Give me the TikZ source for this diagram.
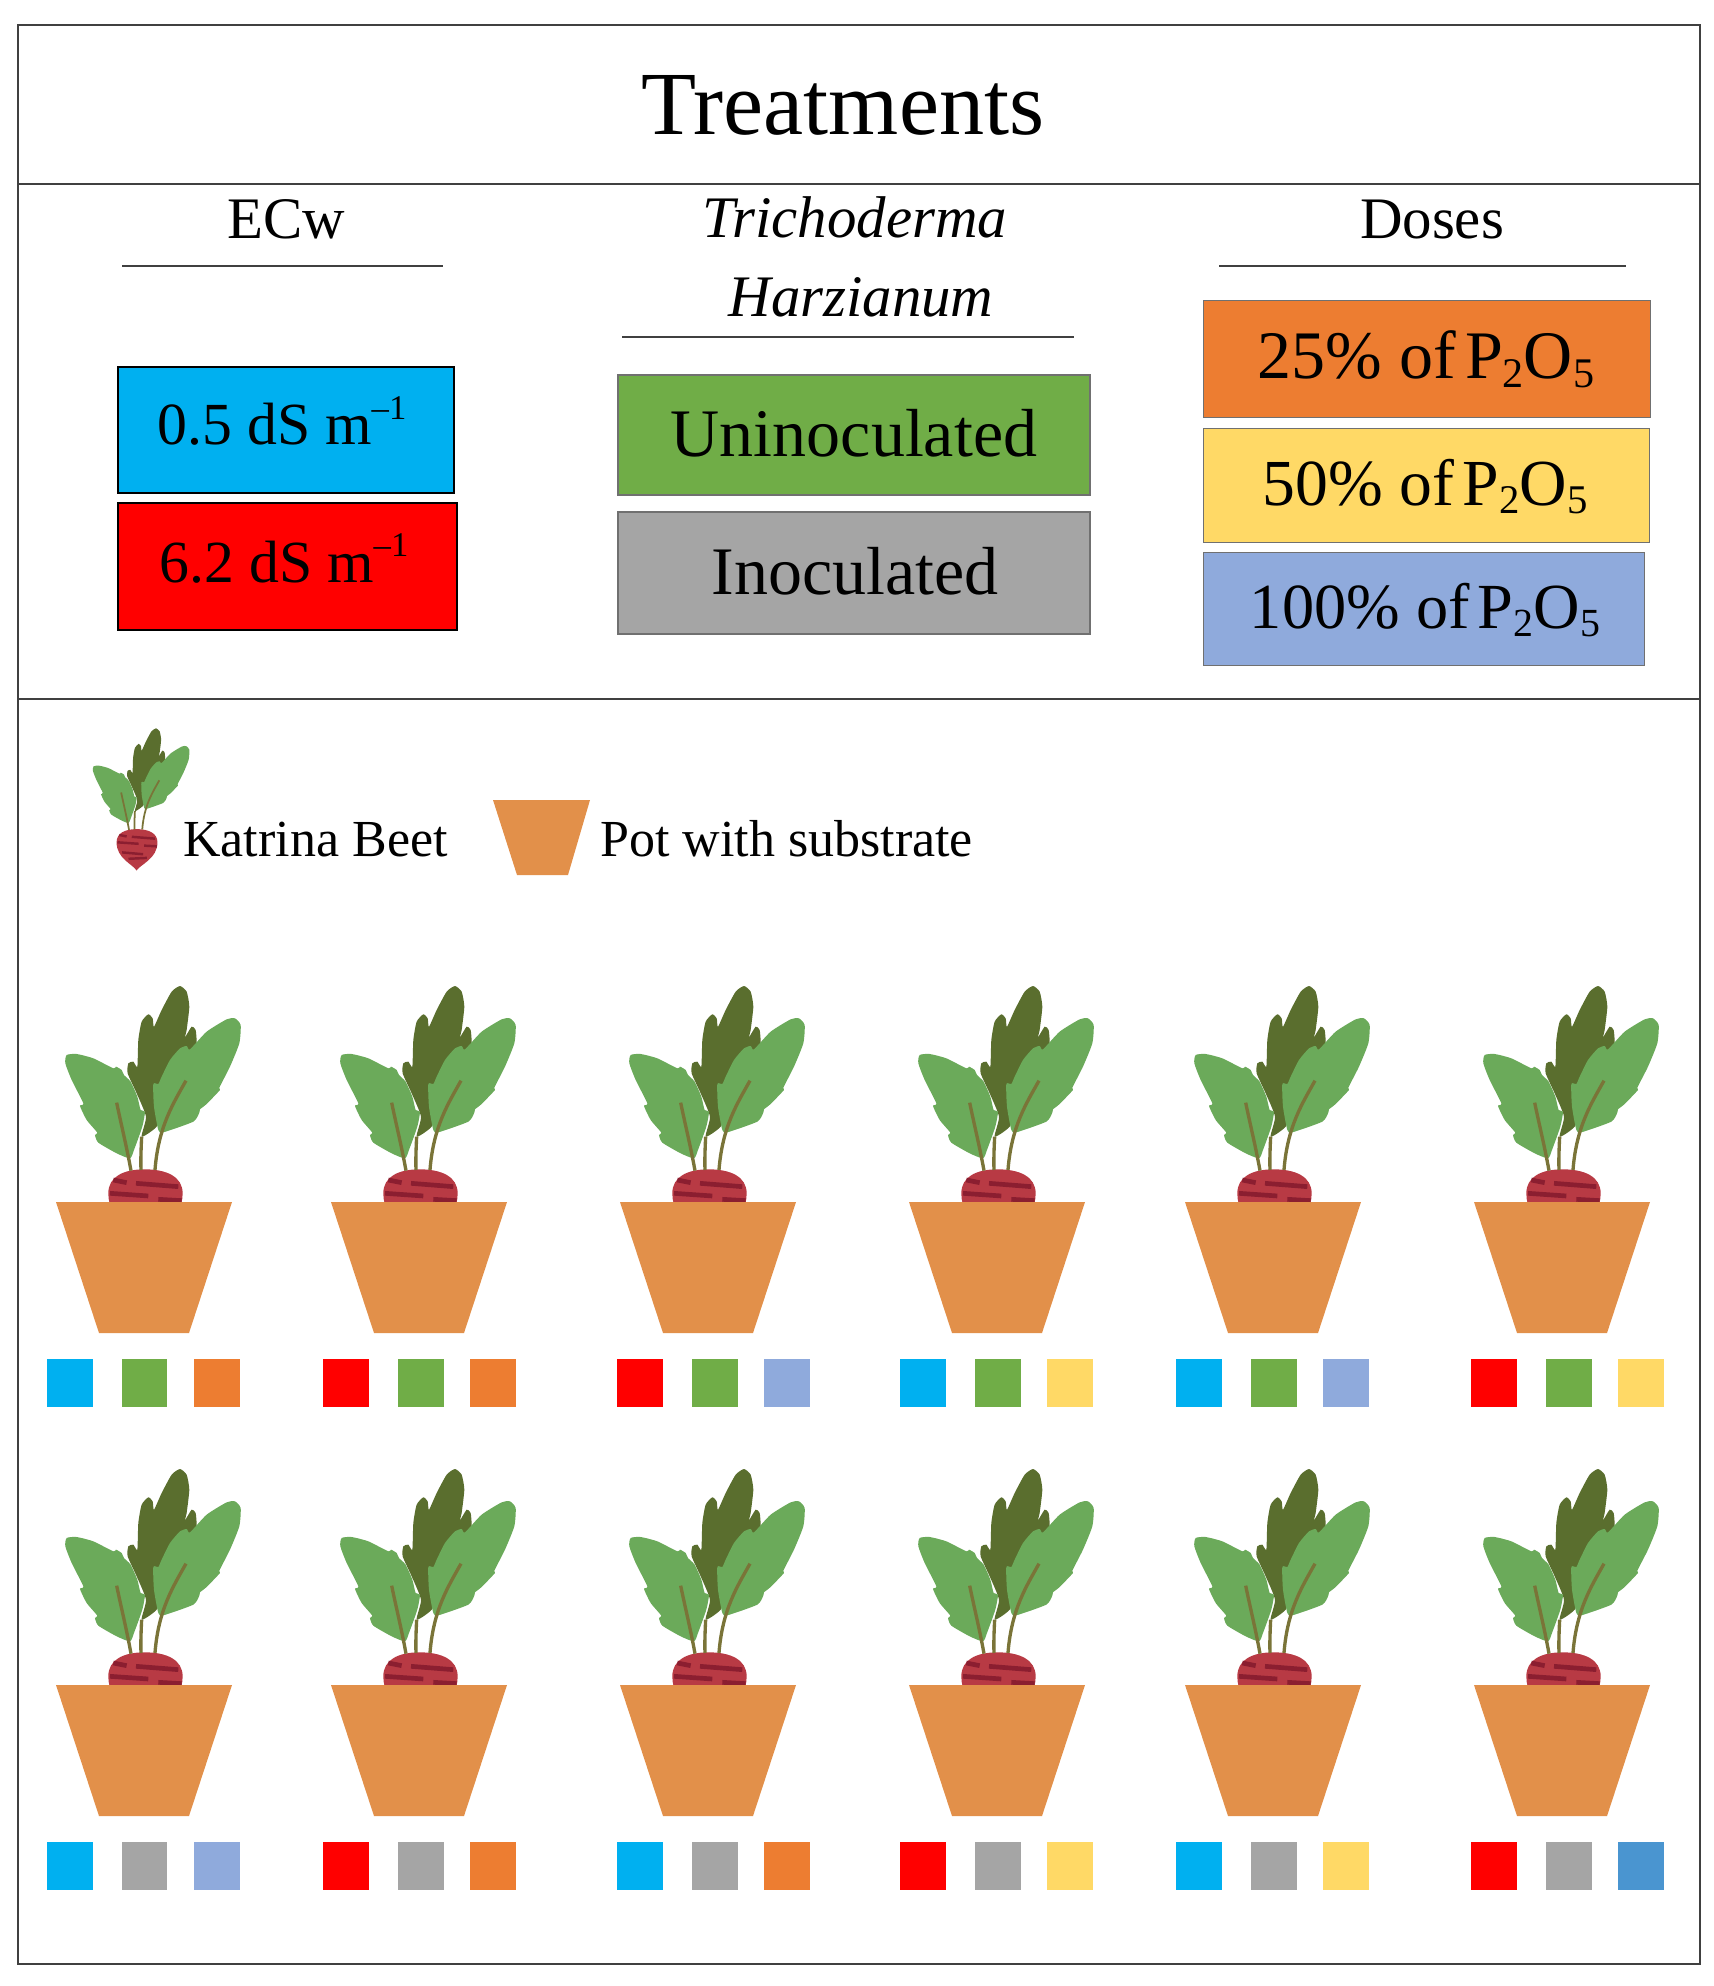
\documentclass[tikz,border=0pt]{standalone}
\usepackage{graphicx}
\usepackage{fontspec}
\setmainfont{Liberation Serif}
\definecolor{ecblue}{HTML}{00B0F0}
\definecolor{ecred}{HTML}{FF0000}
\definecolor{inogreen}{HTML}{70AD47}
\definecolor{inogray}{HTML}{A5A5A5}
\definecolor{doseorange}{HTML}{ED7D31}
\definecolor{doseyellow}{HTML}{FFD966}
\definecolor{doseblue}{HTML}{8FAADC}
\definecolor{dosedeep}{HTML}{4A95D0}
\definecolor{potfill}{HTML}{E2904A}
\definecolor{leaflight}{HTML}{6BAA5A}
\definecolor{leafdark}{HTML}{5A6E2E}
\definecolor{stemcol}{HTML}{7A7438}
\definecolor{bulbcol}{HTML}{B83A44}
\definecolor{stripecol}{HTML}{8B1E30}
\definecolor{framecol}{HTML}{404040}
\newcommand{\lowidx}[1]{\raisebox{-0.13em}{\scalebox{0.62}{#1}}}
\newcommand{\highidx}[1]{\raisebox{0.42em}{\scalebox{0.58}{#1}}}
\newcommand{\ptwoofive}{\hspace{-0.12em}P\lowidx{2}O\lowidx{5}}
\tikzset{
    heading/.style={anchor=base,inner sep=0pt,font=\fontsize{33.5}{34}\selectfont},
    legendtext/.style={anchor=base west,inner sep=0pt,font=\fontsize{29.6}{30}\selectfont},
    boxtext/.style={anchor=base,inner sep=0pt},
    ecbox/.style={draw=black,line width=1.4pt,inner sep=0pt},
    inobox/.style={draw=framecol!75,line width=1.3pt,inner sep=0pt},
    dosebox/.style={draw=framecol!75,line width=1pt,inner sep=0pt},
    swatch/.style={inner sep=0pt,minimum width=0.92cm,minimum height=0.96cm},
    pics/beetplant/.style={code={
        % Back leaf
        \fill[leafdark] plot[smooth cycle,tension=0.35] coordinates {(335,530) (348,470) (320,400) (293,340) (295,310) (310,305) (322,320) (325,240) (335,185) (355,163) (368,175) (372,200) (395,150) (425,95) (450,78) (470,95) (478,140) (470,210) (465,232) (485,200) (497,210) (500,250) (490,270) (440,340) (400,440) (380,500)};
        % Bulb and its stripes
        \fill[bulbcol] (344,854) .. controls (325,820) and (235,790) .. (235,700) .. controls (235,650) and (280,628) .. (344,628) .. controls (410,628) and (458,650) .. (458,700) .. controls (458,790) and (365,820) .. (344,854) -- cycle;
        \foreach \ax/\ay/\bx/\by in {250/660/290/668, 318/670/445/680, 240/700/355/708, 385/718/455/722, 265/755/380/765, 300/790/400/785} {
            \draw[stripecol,line width=#1*1.4] (\ax,\ay) -- (\bx,\by);
        }
        % Side leaves
        \fill[leaflight] plot[smooth cycle,tension=0.35] coordinates {(110,285) (140,282) (190,295) (250,325) (258,320) (275,330) (282,345) (302,365) (322,410) (332,450) (345,455) (337,500) (312,570) (300,595) (260,580) (205,548) (195,525) (202,518) (170,480) (150,438) (160,430) (125,360) (106,310)};
        \fill[leaflight] plot[smooth cycle,tension=0.35] coordinates {(615,175) (632,195) (628,250) (600,320) (568,383) (570,390) (530,432) (510,448) (508,458) (490,485) (400,517) (385,510) (372,440) (370,372) (385,372) (395,350) (420,300) (450,265) (470,258) (480,268) (530,215) (590,178)};
        % Stems
        \draw[stemcol,line width=#1] (260,428) .. controls (275,500) and (290,560) .. (303,632);
        \draw[stemcol,line width=#1] (335,530) .. controls (333,570) and (332,600) .. (333,630);
        \draw[stemcol,line width=#1] (468,362) .. controls (430,430) and (385,500) .. (375,630);
    }},
}
\begin{document}
\begin{tikzpicture}[x=0.02cm,y=-0.02cm]
    \useasboundingbox (0,0) rectangle (1713,1986);

    % Outline and the two dividers
    \draw[framecol,line width=1.4pt] (18,25) rectangle (1700,1964);
    \draw[framecol,line width=1.4pt] (18,184) -- (1700,184);
    \draw[framecol,line width=1.4pt] (18,699) -- (1700,699);

    \node[anchor=base,inner sep=0pt,font=\fontsize{51.3}{52}\selectfont] (title) at (843,135) {Treatments};

    % Column headings
    \node[heading] (ecw) at (286,239) {ECw};
    \node[heading,font=\fontsize{33.5}{34}\selectfont\itshape] (trich) at (855,238) {Trichoderma};
    \node[heading,font=\fontsize{33.5}{34}\selectfont\itshape] (harz) at (861,317) {Harzianum};
    \node[heading] (doses) at (1432,239) {Doses};
    \draw[framecol,line width=1pt] (122,266) -- (443,266);
    \draw[framecol,line width=1pt] (622,337) -- (1074,337);
    \draw[framecol,line width=1pt] (1219,266) -- (1626,266);

    % Treatment boxes
    \node[ecbox,fill=ecblue,minimum width=6.72cm,minimum height=2.52cm] (ecLow) at (286,430) {};
    \node[ecbox,fill=ecred,minimum width=6.78cm,minimum height=2.54cm] (ecHigh) at (287.5,566.5) {};
    \node[inobox,fill=inogreen,minimum width=9.44cm,minimum height=2.4cm] (unino) at (854,435) {};
    \node[inobox,fill=inogray,minimum width=9.44cm,minimum height=2.44cm] (ino) at (854,573) {};
    \node[dosebox,fill=doseorange,minimum width=8.94cm,minimum height=2.34cm] (dose25) at (1427,359) {};
    \node[dosebox,fill=doseyellow,minimum width=8.92cm,minimum height=2.28cm] (dose50) at (1426.5,485.5) {};
    \node[dosebox,fill=doseblue,minimum width=8.82cm,minimum height=2.26cm] (dose100) at (1424,609) {};

    % Box texts
    \node[boxtext,font=\fontsize{34}{34}\selectfont] (ecLowText) at (282,445) {0.5 dS m\highidx{–1}};
    \node[boxtext,font=\fontsize{34}{34}\selectfont] (ecHighText) at (284,582) {6.2 dS m\highidx{–1}};
    \node[boxtext,font=\fontsize{38.7}{39}\selectfont] (uninoText) at (854,457) {Uninoculated};
    \node[boxtext,font=\fontsize{38.7}{39}\selectfont] (inoText) at (855,594) {Inoculated};
    \node[boxtext,font=\fontsize{38.7}{39}\selectfont] (dose25Text) at (1426,379) {25\% of \ptwoofive};
    \node[boxtext,font=\fontsize{37.4}{38}\selectfont] (dose50Text) at (1425,505) {50\% of \ptwoofive};
    \node[boxtext,font=\fontsize{36.6}{37}\selectfont] (dose100Text) at (1425,628) {100\% of \ptwoofive};

    % Legend
    \pic[scale=0.1833] at (73.5,714) {beetplant=1pt};
    \node[legendtext] (beetname) at (183,856) {Katrina Beet};
    \fill[potfill] (493,800) -- (590,800) -- (568,875) -- (517,875) -- cycle;
    \node[legendtext] (potname) at (600,856) {Pot with substrate};

    % Plants in their pots, two rows
    \foreach \dy in {0,483} {
        \foreach \dx in {0,275,564,853,1129,1418} {
            \pic[scale=0.3333] at (30+\dx,960+\dy) {beetplant=1.9pt};
            \fill[potfill] (56+\dx,1202+\dy) -- (232+\dx,1202+\dy) -- (189+\dx,1333+\dy) -- (99+\dx,1333+\dy) -- cycle;
        }
    }

    % Colour code under each pot
    \foreach \n/\dx/\dy/\ca/\cb/\cc in {1/0/0/ecblue/inogreen/doseorange, 2/276/0/ecred/inogreen/doseorange,
                       3/570/0/ecred/inogreen/doseblue, 4/853/0/ecblue/inogreen/doseyellow,
                       5/1129/0/ecblue/inogreen/doseblue, 6/1424/0/ecred/inogreen/doseyellow,
                       7/0/483/ecblue/inogray/doseblue, 8/276/483/ecred/inogray/doseorange,
                       9/570/483/ecblue/inogray/doseorange, 10/853/483/ecred/inogray/doseyellow,
                       11/1129/483/ecblue/inogray/doseyellow, 12/1424/483/ecred/inogray/dosedeep} {
        \node[swatch,fill=\ca] (ec\n) at (70+\dx,1383+\dy) {};
        \node[swatch,fill=\cb] (in\n) at (144.5+\dx,1383+\dy) {};
        \node[swatch,fill=\cc] (do\n) at (217+\dx,1383+\dy) {};
    }
\end{tikzpicture}
\end{document}
